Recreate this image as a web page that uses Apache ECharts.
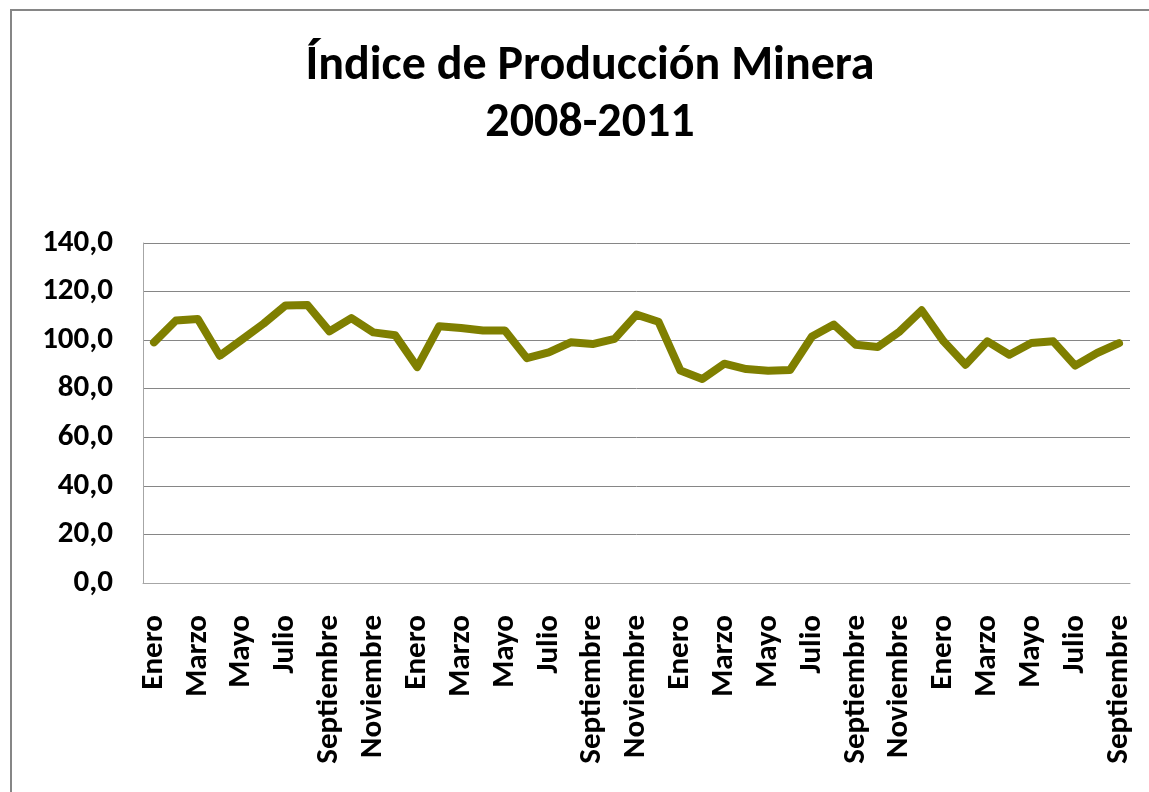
<!DOCTYPE html>
<html>
<head>
<meta charset="utf-8">
<script src="https://cdn.jsdelivr.net/npm/echarts@6/dist/echarts.min.js"></script>
<style>
  html, body { margin: 0; padding: 0; background: #fff; }
  #app { width: 1149px; height: 792px; }
</style>
</head>
<body>
<div id="app"></div>
<script>
var FONT = "Carlito, Lato, sans-serif";

var monthNames = ["Enero", "Febrero", "Marzo", "Abril", "Mayo", "Junio", "Julio",
  "Agosto", "Septiembre", "Octubre", "Noviembre", "Diciembre"];

// Enero 2008 .. Septiembre 2011
var months = [];
for (var y = 0; y < 4; y++) {
  monthNames.forEach(function (m, i) {
    if (y < 3 || i < 9) months.push(m);
  });
}

var values2008 = [99.1, 108.1, 108.7, 93.6, 100.2, 106.8, 114.3, 114.5, 103.6, 109.1, 103.2, 102.0];
var values2009 = [88.9, 105.7, 105.0, 104.0, 104.0, 92.6, 95.0, 99.1, 98.4, 100.5, 110.5, 107.6];
var values2010 = [87.5, 84.0, 90.3, 88.1, 87.4, 87.7, 101.5, 106.4, 98.1, 97.2, 103.6, 112.3];
var values2011 = [99.5, 89.9, 99.5, 94.0, 98.8, 99.5, 89.5, 94.7, 98.8];

var indice = values2008.concat(values2009, values2010, values2011);

var myChart = echarts.init(document.getElementById("app"));

var option = {
  backgroundColor: "#fff",
  animation: false,
  graphic: [
    {
      type: "rect",
      shape: { x: 11, y: 10, width: 1200, height: 900 },
      style: { fill: "none", stroke: "#868686", lineWidth: 2 },
      silent: true
    }
  ],
  title: {
    text: "Índice de Producción Minera\n2008-2011",
    left: 585,
    textAlign: "center",
    top: 33,
    textStyle: {
      fontFamily: FONT,
      fontWeight: "bold",
      fontSize: 48,
      lineHeight: 57,
      color: "#000"
    }
  },
  grid: {
    left: 143,
    top: 243,
    right: 19,
    bottom: 209,
    outerBoundsMode: "none"
  },
  xAxis: {
    type: "category",
    data: months,
    boundaryGap: true,
    axisLine: { lineStyle: { color: "#a6a6a6", width: 1 } },
    axisTick: { show: false },
    axisLabel: {
      interval: 1,
      rotate: 90,
      margin: 32,
      fontFamily: FONT,
      fontWeight: "bold",
      fontSize: 31,
      color: "#000"
    }
  },
  yAxis: {
    type: "value",
    min: 0,
    max: 140,
    interval: 20,
    axisLine: { show: true, lineStyle: { color: "#a6a6a6", width: 1 } },
    axisTick: { show: false },
    splitLine: { lineStyle: { color: "#868686", width: 1 } },
    axisLabel: {
      margin: 30,
      fontFamily: FONT,
      fontWeight: "bold",
      fontSize: 31,
      color: "#000",
      formatter: function (v) {
        return v.toFixed(1).replace(".", ",");
      }
    }
  },
  series: [
    {
      name: "Índice",
      type: "line",
      data: indice,
      symbol: "none",
      lineStyle: { color: "#7f7f00", width: 8, join: "round", cap: "round" },
      itemStyle: { color: "#7f7f00" }
    }
  ]
};

option && myChart.setOption(option);
</script>
</body>
</html>
